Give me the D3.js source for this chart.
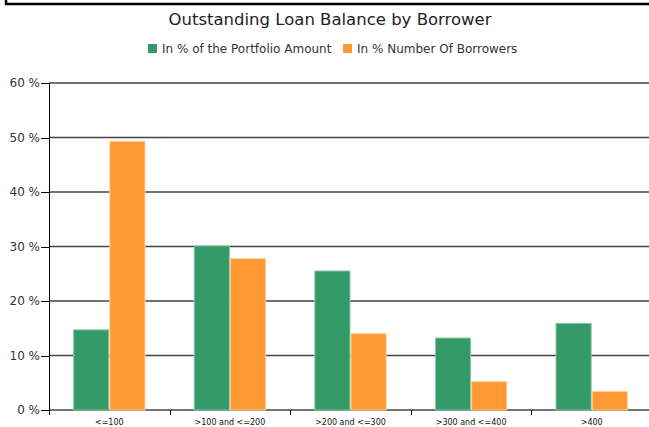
<!DOCTYPE html>
<html>
<meta charset="utf-8">
<style>
  body { margin: 0; background: #fff; }
  svg { width: 649px; height: 427px; display: block; }
  text { font-family: "DejaVu Sans", Verdana, sans-serif; fill: #333; }
  .grid line { stroke: #444; stroke-width: 1.4; }
  .axis path, .axis line { stroke: #000; shape-rendering: crispEdges; }
</style>
<body>
  <svg></svg>
</body>
<script src="https://d3js.org/d3.v7.min.js"></script>
<script>

var categories = ["<=100", ">100 and <=200", ">200 and <=300", ">300 and <=400", ">400"];
var seriesNames = ["In % of the Portfolio Amount", "In % Number Of Borrowers"];
var portfolioAmount = [14.8, 30.2, 25.6, 13.3, 16.0];
var numberOfBorrowers = [49.4, 27.9, 14.1, 5.3, 3.5];
var yTicks = [0, 10, 20, 30, 40, 50, 60];
var colors = ["#339966", "#ff9933"];
var strokes = ["#8cc9a8", "#ffd29e"];

var plotLeft = 49, plotRight = 652, plotTop = 83, plotBottom = 410;

var svg = d3.select("svg");

// border left over from the page above
svg.append("path")
  .attr("d", "M6,0V4H649")
  .attr("fill", "none")
  .attr("stroke", "#000")
  .attr("stroke-width", 2.5);

svg.append("text")
  .attr("x", 330).attr("y", 25)
  .attr("text-anchor", "middle")
  .style("font-size", "16.5px")
  .style("fill", "#222")
  .text("Outstanding Loan Balance by Borrower");

var xScale = d3.scaleBand()
  .domain(categories)
  .range([plotLeft, plotRight])
  .paddingInner(0.4)
  .paddingOuter(0.2);

var xSub = d3.scaleBand()
  .domain([0, 1])
  .range([0, xScale.bandwidth()]);

var yScale = d3.scaleLinear()
  .domain([0, 60])
  .range([plotBottom, plotTop]);

// legend
var legendX = [148, 343];
var legend = svg.selectAll(".legend")
  .data(seriesNames)
  .enter().append("g")
  .attr("class", "legend")
  .attr("transform", function(d, i) { return "translate(" + legendX[i] + ",44)"; });
legend.append("rect")
  .attr("width", 9).attr("height", 9)
  .attr("fill", function(d, i) { return colors[i]; });
legend.append("text")
  .attr("x", 14).attr("y", 8.5)
  .style("font-size", "12px")
  .text(function(d) { return d; });

// gridlines
svg.append("g").attr("class", "grid")
  .selectAll("line")
  .data(yTicks)
  .enter().append("line")
  .attr("x1", plotLeft).attr("x2", 649)
  .attr("y1", function(d) { return yScale(d); })
  .attr("y2", function(d) { return yScale(d); });

// bars
var groups = svg.selectAll(".cat")
  .data(categories)
  .enter().append("g")
  .attr("class", "cat")
  .attr("transform", function(d) { return "translate(" + xScale(d) + ",0)"; });

groups.selectAll("rect")
  .data(function(d, i) { return [portfolioAmount[i], numberOfBorrowers[i]]; })
  .enter().append("rect")
  .attr("x", function(d, j) { return xSub(j) + 0.5; })
  .attr("width", xSub.bandwidth() - 1)
  .attr("y", function(d) { return yScale(d) + 0.5; })
  .attr("height", function(d) { return plotBottom - yScale(d) - 0.5; })
  .attr("fill", function(d, j) { return colors[j]; })
  .attr("stroke", function(d, j) { return strokes[j]; })
  .attr("stroke-width", 1);

// y axis
var yAxis = d3.axisLeft(yScale)
  .tickValues(yTicks)
  .tickSize(8)
  .tickPadding(1)
  .tickFormat(function(d) { return d + " %"; });

var gy = svg.append("g")
  .attr("class", "y axis")
  .attr("transform", "translate(" + plotLeft + ",0)")
  .call(yAxis);
gy.select(".domain").attr("d", "M0.5," + plotTop + "V" + (plotBottom + 5));
gy.selectAll("text").style("font-size", "12px").style("fill", "#333");

// x axis: tick marks at category boundaries
var step = xScale.step();
var boundaries = categories.slice(1).map(function(c) {
  return xScale(c) - (step - xScale.bandwidth()) / 2;
});
svg.append("g").attr("class", "axis")
  .selectAll("line")
  .data(boundaries)
  .enter().append("line")
  .attr("x1", function(d) { return Math.round(d) + 0.5; })
  .attr("x2", function(d) { return Math.round(d) + 0.5; })
  .attr("y1", plotBottom).attr("y2", plotBottom + 5);

svg.append("g")
  .selectAll("text")
  .data(categories)
  .enter().append("text")
  .attr("x", function(d) { return xScale(d) + xScale.bandwidth() / 2; })
  .attr("y", 425)
  .attr("text-anchor", "middle")
  .style("font-size", "8px")
  .style("fill", "#111")
  .text(function(d) { return d; });

</script>
</html>
